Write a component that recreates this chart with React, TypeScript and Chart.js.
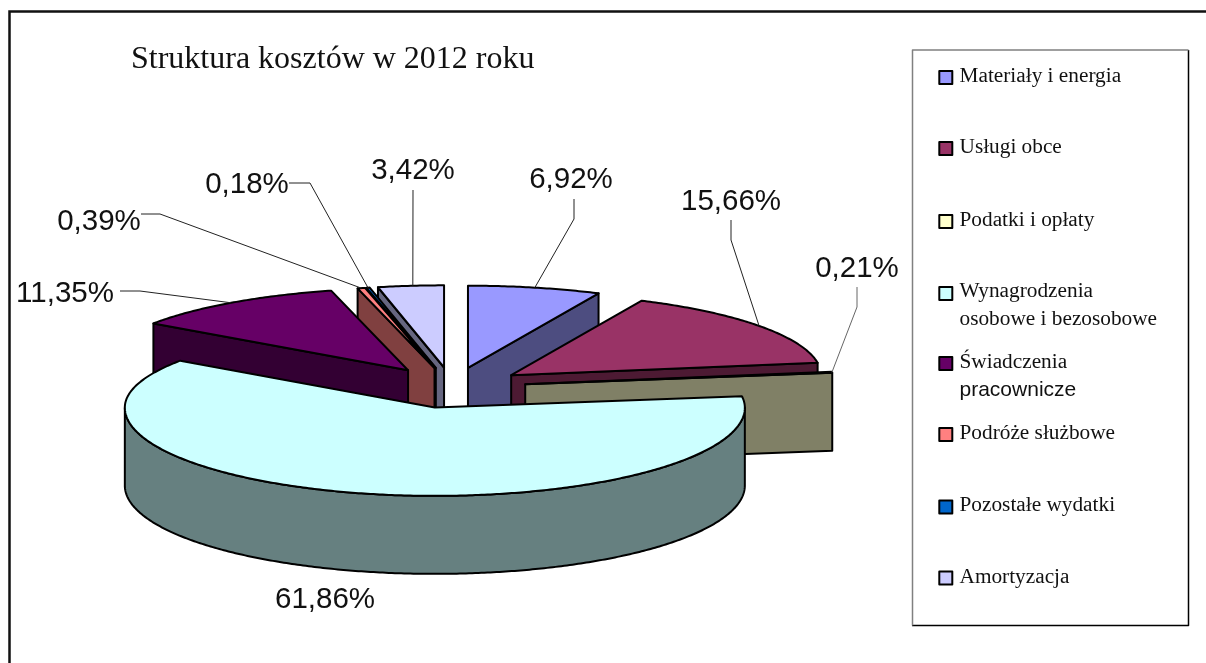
import React, { useEffect, useRef } from "react";
import { Chart, registerables } from "chart.js";

Chart.register(...registerables);

const categories = [
  "Materiały i energia",
  "Usługi obce",
  "Podatki i opłaty",
  "Wynagrodzenia osobowe i bezosobowe",
  "Świadczenia pracownicze",
  "Podróże służbowe",
  "Pozostałe wydatki",
  "Amortyzacja",
];
const shares = [6.92, 15.66, 0.21, 61.86, 11.35, 0.39, 0.18, 3.42];
const topColors = ["#9999FF", "#993366", "#FFFFCC", "#CCFFFF", "#660066", "#FF8080", "#0066CC", "#CCCCFF"];
const wallColors = ["#4D4D80", "#4D1A33", "#808066", "#668080", "#330033", "#804040", "#003366", "#666680"];
const chartTitle = "Struktura kosztów w 2012 roku";

const SERIF = '"Liberation Serif", "Times New Roman", serif';
const SANS = '"Liberation Sans", Arial, sans-serif';
const BACK_SQUASH = 0.265;
const FRONT_SQUASH = 0.285;
const DEPTH = 78;
const DRAW_ORDER = [7, 6, 5, 4, 0, 1, 2, 3];
const sliceOffsets = [74, 74, 74, 74, 77, 74, 74, 74];

// label centre and leader elbow per slice (layout only)
const labelLayout: { x: number; y: number; start?: [number, number]; elbow?: [number, number]; stroke?: string; shift?: number }[] = [
  { x: 571, y: 180, start: [574, 199], elbow: [574, 219] },
  { x: 731, y: 202, start: [731, 220], elbow: [731, 240] },
  { x: 857, y: 269, start: [857, 287], elbow: [857, 307], stroke: "#666666" },
  { x: 325, y: 600 },
  { x: 65, y: 294, start: [120, 291], elbow: [140, 291] },
  { x: 99, y: 222, start: [141, 214], elbow: [160, 214] },
  { x: 247, y: 185, start: [289, 183], elbow: [310, 183] },
  { x: 413, y: 171, start: [413, 190], elbow: [413, 190], shift: 2 },
];

const legendRows: { swatchY: number; lines: { text: string; y: number; font?: string }[] }[] = [
  { swatchY: 77.5, lines: [{ text: categories[0], y: 76 }] },
  { swatchY: 148.5, lines: [{ text: categories[1], y: 147 }] },
  { swatchY: 221.5, lines: [{ text: categories[2], y: 220 }] },
  { swatchY: 293.5, lines: [{ text: "Wynagrodzenia", y: 291 }, { text: "osobowe i bezosobowe", y: 319 }] },
  { swatchY: 363.5, lines: [{ text: "Świadczenia", y: 362 }, { text: "pracownicze", y: 390, font: SANS }] },
  { swatchY: 434.5, lines: [{ text: categories[5], y: 433 }] },
  { swatchY: 507, lines: [{ text: categories[6], y: 505 }] },
  { swatchY: 578, lines: [{ text: categories[7], y: 577 }] },
];

const project = (arc: any, angle: number, r: number): [number, number] => {
  const mid = (arc.startAngle + arc.endAngle) / 2;
  const off = arc.options.offset;
  const sq = (a: number) => (Math.sin(a) > 0 ? FRONT_SQUASH : BACK_SQUASH);
  return [
    arc.x + off * Math.cos(mid) + r * Math.cos(angle),
    arc.y + off * Math.sin(mid) * sq(mid) + r * Math.sin(angle) * sq(angle),
  ];
};

const arcAngles = (from: number, to: number) => {
  const out: number[] = [];
  const steps = Math.max(2, Math.ceil((to - from) / 0.01));
  for (let i = 0; i <= steps; i++) out.push(from + ((to - from) * i) / steps);
  return out;
};

const poly = (ctx: CanvasRenderingContext2D, pts: [number, number][], fill: string, lw: number) => {
  ctx.beginPath();
  pts.forEach((p, i) => (i ? ctx.lineTo(p[0], p[1]) : ctx.moveTo(p[0], p[1])));
  ctx.closePath();
  ctx.fillStyle = fill;
  ctx.fill();
  ctx.lineJoin = "round";
  ctx.lineWidth = lw;
  ctx.strokeStyle = "#000";
  ctx.stroke();
};

const drop = (p: [number, number]): [number, number] => [p[0], p[1] + DEPTH];

const pie3d = {
  id: "pie3d",
  beforeDatasetDraw(chart: any) {
    const { ctx } = chart;
    const arcs = chart.getDatasetMeta(0).data;
    ctx.save();
    ctx.fillStyle = "#FFFFFF";
    ctx.fillRect(0, 0, chart.width, chart.height);

    // frame: only its top and left sides fall inside the picture
    ctx.lineWidth = 2.5;
    ctx.strokeStyle = "#111";
    ctx.beginPath();
    ctx.moveTo(9.5, chart.height);
    ctx.lineTo(9.5, 11.5);
    ctx.lineTo(chart.width, 11.5);
    ctx.stroke();

    // title
    ctx.fillStyle = "#111";
    ctx.font = `32px ${SERIF}`;
    ctx.textAlign = "left";
    ctx.textBaseline = "alphabetic";
    ctx.fillText(chartTitle, 131, 68);

    // slices, back to front
    DRAW_ORDER.forEach((i) => {
      const arc = arcs[i];
      const r = arc.outerRadius;
      const apex = project(arc, 0, 0);
      const a0 = arc.startAngle;
      const a1 = arc.endAngle;
      const start = project(arc, a0, r);
      const end = project(arc, a1, r);
      if (Math.cos(a0) < -1e-6) poly(ctx, [apex, start, drop(start), drop(apex)], wallColors[i], 2);
      if (Math.cos(a1) > 1e-6) poly(ctx, [apex, end, drop(end), drop(apex)], wallColors[i], 2);
      const front = arcAngles(a0, a1).filter((a) => Math.sin(a) >= 0);
      if (front.length > 1) {
        const edge = front.map((a) => project(arc, a, r));
        poly(ctx, [...edge, ...edge.slice().reverse().map(drop)], wallColors[i], 2);
      }
      const top = arcAngles(a0, a1).map((a) => project(arc, a, r));
      poly(ctx, [apex, ...top], topColors[i], 2);
    });

    // value labels and leaders
    ctx.font = `29.5px ${SANS}`;
    ctx.textAlign = "center";
    ctx.textBaseline = "middle";
    shares.forEach((v, i) => {
      const arc = arcs[i];
      const lay = labelLayout[i];
      if (lay.start && lay.elbow) {
        const anchor = project(arc, (arc.startAngle + arc.endAngle) / 2, arc.outerRadius);
        ctx.beginPath();
        ctx.moveTo(lay.start[0], lay.start[1]);
        ctx.lineTo(lay.elbow[0], lay.elbow[1]);
        ctx.lineTo(anchor[0] + (lay.shift || 0), anchor[1]);
        ctx.lineWidth = 1;
        ctx.strokeStyle = lay.stroke || "#222";
        ctx.stroke();
      }
      ctx.fillStyle = "#111";
      ctx.fillText(`${v.toFixed(2).replace(".", ",")}%`, lay.x, lay.y);
    });

    // legend box
    ctx.fillStyle = "#FFFFFF";
    ctx.fillRect(912, 50, 277, 575);
    ctx.lineWidth = 1.5;
    ctx.strokeStyle = "#000";
    ctx.beginPath();
    ctx.moveTo(1188.5, 50);
    ctx.lineTo(1188.5, 625.5);
    ctx.lineTo(912, 625.5);
    ctx.stroke();
    ctx.strokeStyle = "#808080";
    ctx.beginPath();
    ctx.moveTo(912.5, 625.5);
    ctx.lineTo(912.5, 50);
    ctx.lineTo(1188.5, 50);
    ctx.stroke();

    ctx.textAlign = "left";
    ctx.textBaseline = "middle";
    legendRows.forEach((row, i) => {
      ctx.fillStyle = topColors[i];
      ctx.fillRect(939.3, row.swatchY - 6.5, 13, 13);
      ctx.lineWidth = 2;
      ctx.strokeStyle = "#000";
      ctx.strokeRect(939.3, row.swatchY - 6.5, 13, 13);
      row.lines.forEach((line) => {
        ctx.fillStyle = "#111";
        ctx.font = line.font ? `21px ${line.font}` : `21.3px ${SERIF}`;
        ctx.fillText(line.text, 959.5, line.y);
      });
    });
    ctx.restore();
    return false;
  },
};

export default function App() {
  const ref = useRef<HTMLCanvasElement | null>(null);
  useEffect(() => {
    document.body.style.margin = "0";
    document.body.style.background = "#fff";
    const chart = new Chart(ref.current as HTMLCanvasElement, {
      type: "pie",
      data: {
        labels: categories,
        datasets: [{ data: shares, backgroundColor: topColors, borderColor: "#000", borderWidth: 2, offset: sliceOffsets }],
      },
      options: {
        responsive: false,
        animation: false,
        radius: 310,
        layout: { padding: { left: 0, right: 302, top: 111, bottom: 0 } },
        plugins: { legend: { display: false }, title: { display: false }, tooltip: { enabled: false } },
      } as any,
      plugins: [pie3d as any],
    });
    return () => chart.destroy();
  }, []);
  return <canvas ref={ref} width={1206} height={663} style={{ display: "block", position: "absolute", left: 0, top: 0 }} />;
}
